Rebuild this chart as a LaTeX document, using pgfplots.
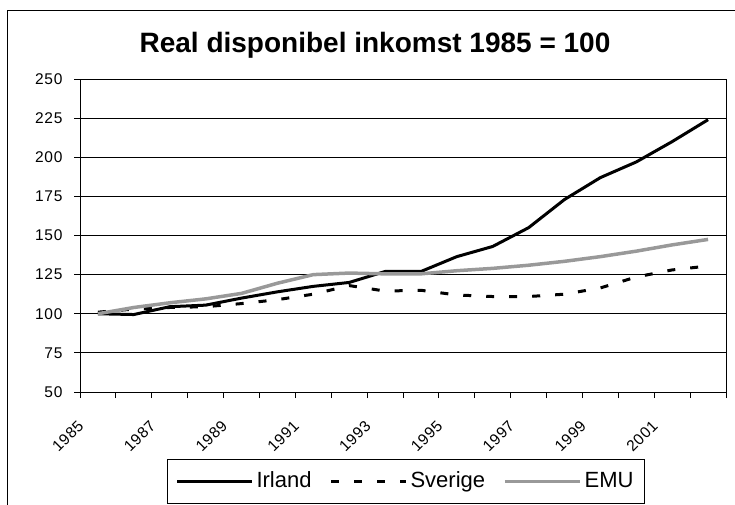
\documentclass[border=0pt]{standalone}
\usepackage{fontspec}
\setmainfont{Liberation Sans}
\newfontfamily\tickfont[LetterSpace=5]{Liberation Sans}
\usepackage{pgfplots}
\pgfplotsset{compat=1.18}
\definecolor{emugray}{HTML}{999999}

\begin{document}
\begin{tikzpicture}[x=1pt,y=1pt]
\clip (0,0) rectangle (735,504);
% chart area frame (cut off at right and bottom)
\draw[line width=1pt] (7,-10) rectangle (745,493);
\node[anchor=base, font=\fontsize{28}{30}\selectfont\bfseries] at (375,451) {Real disponibel inkomst 1985 = 100};
\begin{axis}[
  at={(80pt,112pt)}, anchor=south west,
  scale only axis, width=646pt, height=313pt,
  xmin=1984.5, xmax=2002.5, ymin=50, ymax=250,
  ytick={50,75,...,250},
  xtick={1985,1987,1989,1991,1993,1995,1997,1999,2001},
  xticklabels={1985,1987,1989,1991,1993,1995,1997,1999,2001},
  minor xtick={1984.5,1985.5,...,2002.5},
  every major x tick/.append style={draw=none},
  xticklabel style={xshift=-17pt, yshift=-25pt, rotate=45, anchor=east, inner sep=0pt},
  tick pos=left, tick align=outside, major tick length=6pt, minor tick length=6pt,
  yticklabel style={xshift=-8pt},
  ymajorgrids,
  grid style={black, line width=0.8pt},
  axis line style={black, line width=1pt},
  major tick style={black, line width=1pt},
  minor tick style={black, line width=1pt},
  /pgf/number format/assume math mode=true,
  ticklabel style={font=\fontsize{15.5}{18}\tickfont},
  legend style={at={(0.1347,-0.2141)}, anchor=north west, draw=black, line width=1pt,
    inner xsep=8pt, inner ysep=8.5pt, legend columns=-1,
    font=\fontsize{22}{26}\selectfont,
    nodes={inner xsep=3pt, inner ysep=3pt, text height=16pt, text depth=5pt},
    /tikz/every even column/.append style={column sep=15pt}},
  legend image code/.code={\draw[#1] (0pt,0pt) -- (75pt,0pt);},
]
\addplot[black, line width=3pt] coordinates {
(1985,100) (1986,99.5) (1987,104.5) (1988,105.5) (1989,110) (1990,114)
(1991,117.5) (1992,120) (1993,127) (1994,127) (1995,136.5) (1996,143)
(1997,155) (1998,173) (1999,187) (2000,197) (2001,210) (2002,224)};
\addplot[black, line width=3pt, dash pattern=on 8pt off 15pt] coordinates {
(1985,101) (1986,103) (1987,104) (1988,104.5) (1989,106.5) (1990,109)
(1991,112.5) (1992,118) (1993,114.5) (1994,115) (1995,112) (1996,111)
(1997,111) (1998,112.5) (1999,116.5) (2000,123.5) (2001,128) (2002,130.5)};
\addplot[emugray, line width=3.5pt] coordinates {
(1985,100) (1986,104) (1987,107) (1988,109.5) (1989,113) (1990,119.5)
(1991,125) (1992,126) (1993,125.5) (1994,125.5) (1995,127.5) (1996,129)
(1997,131) (1998,133.5) (1999,136.5) (2000,140) (2001,144) (2002,147.5)};
\legend{Irland, Sverige, EMU}
\end{axis}
\end{tikzpicture}
\end{document}
